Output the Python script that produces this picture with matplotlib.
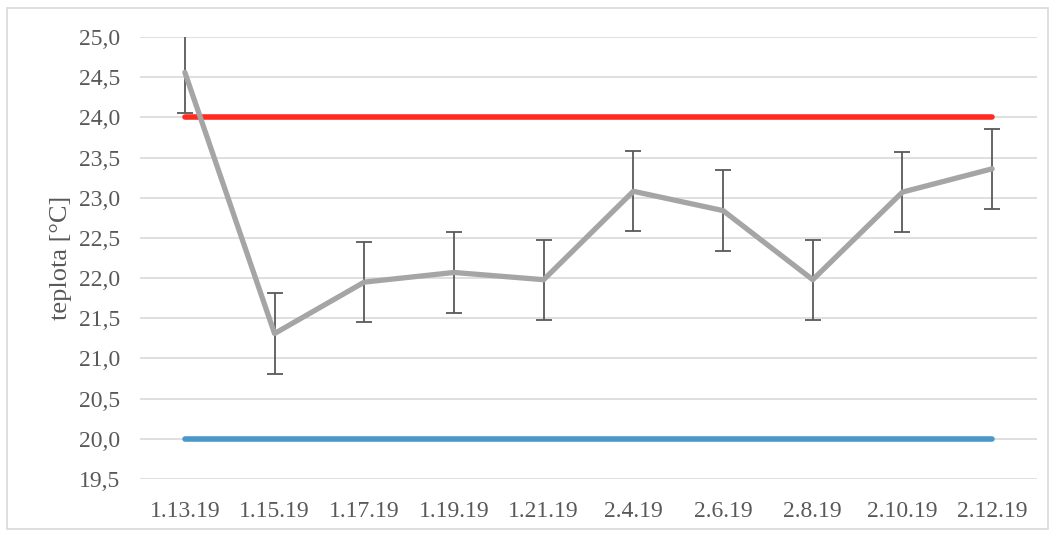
import matplotlib.pyplot as plt
from matplotlib.ticker import FuncFormatter, MultipleLocator
from matplotlib.patches import Rectangle

# data
dates = ['1.13.19', '1.15.19', '1.17.19', '1.19.19', '1.21.19',
         '2.4.19', '2.6.19', '2.8.19', '2.10.19', '2.12.19']
teplota = [24.56, 21.31, 21.95, 22.07, 21.98, 23.08, 22.84, 21.98, 23.07, 23.36]
chyba = [0.5, 0.5, 0.5, 0.5, 0.5, 0.5, 0.5, 0.5, 0.5, 0.5]
horni_mez = [24.0] * len(dates)
dolni_mez = [20.0] * len(dates)

plt.rcParams['font.family'] = ['Liberation Serif', 'DejaVu Serif']

fig = plt.figure(figsize=(10.53, 5.33), dpi=100)
ax = fig.add_axes([140 / 1053, 1 - 479 / 533, (1037 - 140) / 1053, (479 - 37) / 533])

x = list(range(len(dates)))

# limit lines
ax.plot(x, horni_mez, color='#ff2b21', lw=4, solid_capstyle='round', zorder=3)
ax.plot(x, dolni_mez, color='#4a98c9', lw=4, solid_capstyle='round', zorder=3)

# measured values
ax.errorbar(x, teplota, yerr=chyba, color='#a5a5a5', lw=3.8,
            ecolor='#595959', elinewidth=1.3, capsize=6, capthick=1.3,
            solid_capstyle='round', zorder=4)

ax.set_xlim(-0.5, len(dates) - 0.5)
ax.set_ylim(19.5, 25.0)
ax.yaxis.set_major_locator(MultipleLocator(0.5))
ax.yaxis.set_major_formatter(FuncFormatter(lambda v, p: f'{v:.1f}'.replace('.', ',')))
ax.set_xticks(x)
ax.set_xticklabels(dates)
ax.grid(axis='y', color='#d9d9d9', lw=1.2)
ax.set_axisbelow(True)
for s in ax.spines.values():
    s.set_visible(False)
ax.tick_params(length=0, labelsize=17, labelcolor='#595959')
ax.tick_params(axis='x', pad=16)
ax.tick_params(axis='y', pad=14)
ax.set_ylabel('teplota [°C]', fontsize=19, color='#595959')
ax.yaxis.set_label_coords((72 - 140) / 897, 0.5)

# outer frame
fig.patches.append(Rectangle((7 / 1053, 4 / 533), 1041 / 1053, 521 / 533,
                             transform=fig.transFigure, fill=False,
                             edgecolor='#d9d9d9', lw=1.2))

fig.savefig('out.png', dpi=100)
